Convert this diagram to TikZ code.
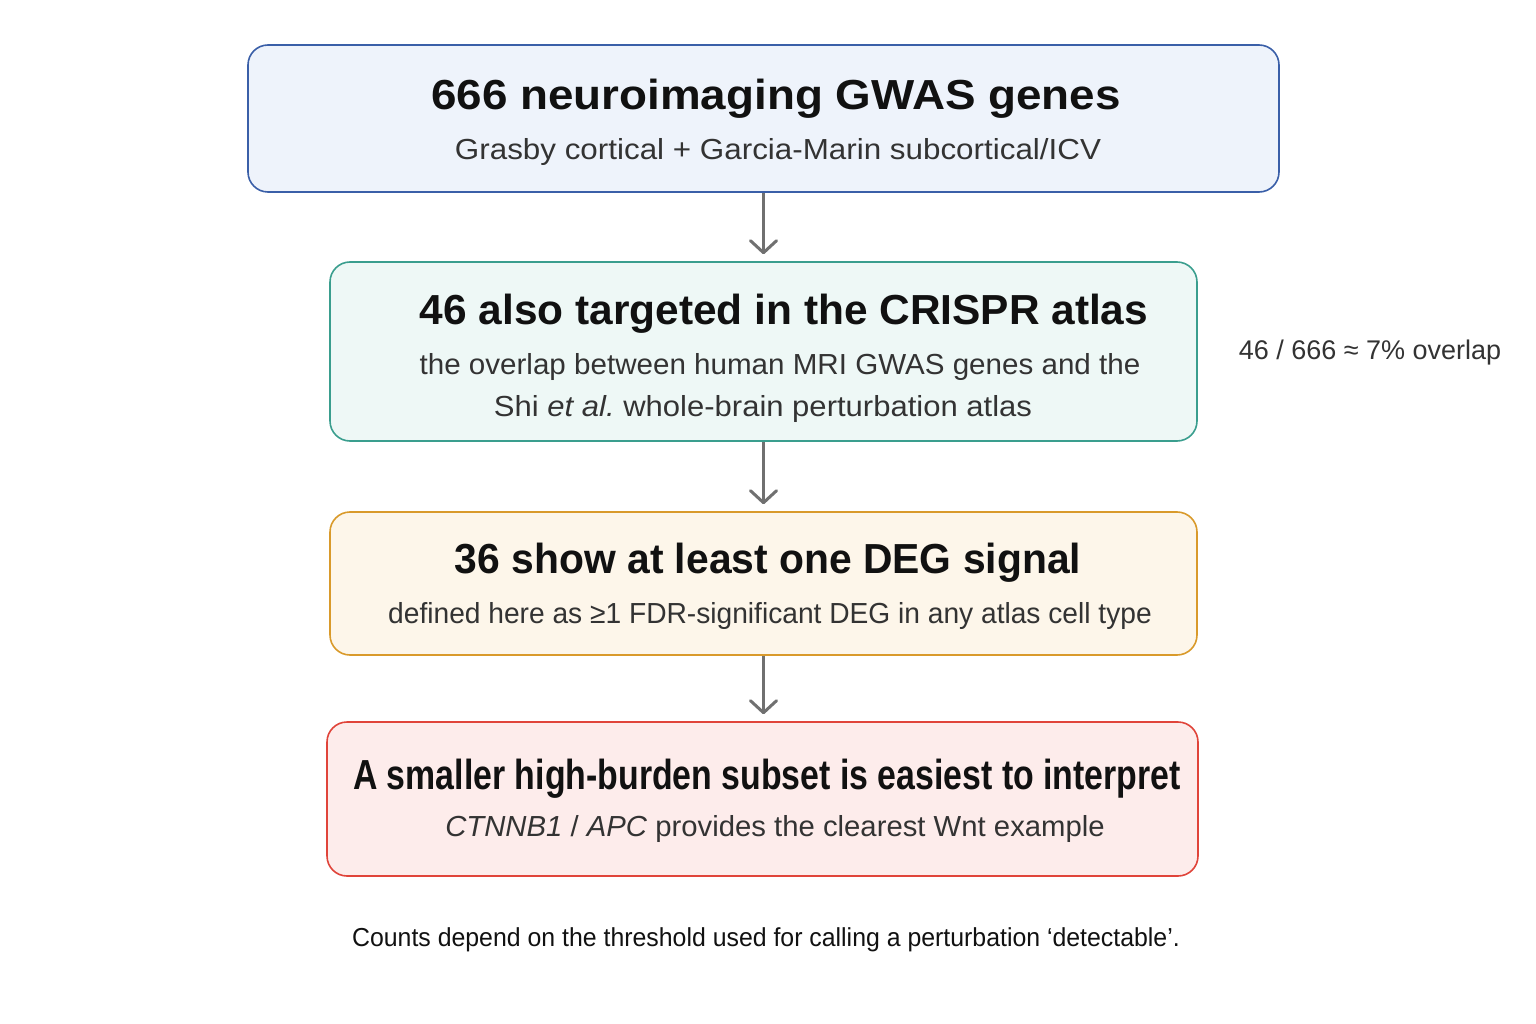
\documentclass[tikz,border=0pt]{standalone}
\usepackage{fontspec}
\setmainfont{Liberation Sans}
\usetikzlibrary{arrows.meta}
\definecolor{bA}{HTML}{3A5FA8}\definecolor{fA}{HTML}{EEF3FB}
\definecolor{bB}{HTML}{3A9E8E}\definecolor{fB}{HTML}{EEF8F6}
\definecolor{bC}{HTML}{D99A2B}\definecolor{fC}{HTML}{FDF6EA}
\definecolor{bD}{HTML}{E0443A}\definecolor{fD}{HTML}{FDECEB}
\definecolor{ttl}{HTML}{111111}\definecolor{sub}{HTML}{333333}
\definecolor{arr}{HTML}{707070}
\begin{document}
\begin{tikzpicture}[x=1pt,y=-1pt,
  box/.style={draw=#1,line width=1.6pt,rounded corners=20pt,inner sep=0pt},
  ttlsty/.style={text=ttl,font=\bfseries\fontsize{42}{48}\selectfont,inner sep=0pt,anchor=center},
  substy/.style={text=sub,font=\fontsize{29}{40}\selectfont,inner sep=0pt,anchor=center,align=center},
  flow/.style={draw=arr,line width=3pt,-{Straight Barb[length=12pt,width=26pt,round]},shorten >=7pt}]
\useasboundingbox[fill=white] (0,0) rectangle (1536,1024);
% boxes
\node[box=bA,fill=fA,minimum width=1031pt,minimum height=147pt] (b1) at (763.5,118.5) {};
\node[box=bB,fill=fB,minimum width=867pt,minimum height=179pt] (b2) at (763.5,351.5) {};
\node[box=bC,fill=fC,minimum width=867pt,minimum height=143pt] (b3) at (763.5,583.5) {};
\node[box=bD,fill=fD,minimum width=871pt,minimum height=154pt] (b4) at (762.5,799) {};
% texts
\node[ttlsty] (t1) at (776,99) {\scalebox{1.09}[1]{666 neuroimaging GWAS genes}};
\node[substy] (s1) at (778,152) {\scalebox{1.082}[1]{Grasby cortical + Garcia-Marin subcortical/ICV}};
\node[ttlsty] (t2) at (784,314) {\scalebox{1.01}[1]{46 also targeted in the CRISPR atlas}};
\node[substy] (s2a) at (780,367) {\scalebox{1.02}[1]{the overlap between human MRI GWAS genes and the}};
\node[substy] (s2b) at (763,409) {\scalebox{1.07}[1]{Shi \textit{et al.}\ whole-brain perturbation atlas}};
\node[ttlsty] (t3) at (768,563) {\scalebox{0.972}[1]{36 show at least one DEG signal}};
\node[substy] (s3) at (770,616) {\scalebox{0.971}[1]{defined here as ≥1 FDR-significant DEG in any atlas cell type}};
\node[ttlsty] (t4) at (767,779) {\scalebox{0.806}[1]{A smaller high-burden subset is easiest to interpret}};
\node[substy] (s4) at (775,829) {\scalebox{1.01}[1]{\textit{CTNNB1} / \textit{APC} provides the clearest Wnt example}};
\node[substy,font=\fontsize{27}{32}\selectfont] (side) at (1370,353) {46 / 666 ≈ 7\% overlap};
\node[substy,text=ttl,font=\fontsize{26}{32}\selectfont] (foot) at (766,940) {\scalebox{0.956}[1]{Counts depend on the threshold used for calling a perturbation ‘detectable’.}};
% arrows
\draw[flow] (b1.south) -- (b2.north);
\draw[flow] (b2.south) -- (b3.north);
\draw[flow] (b3.south) -- (b3.south |- b4.north);
\end{tikzpicture}
\end{document}
